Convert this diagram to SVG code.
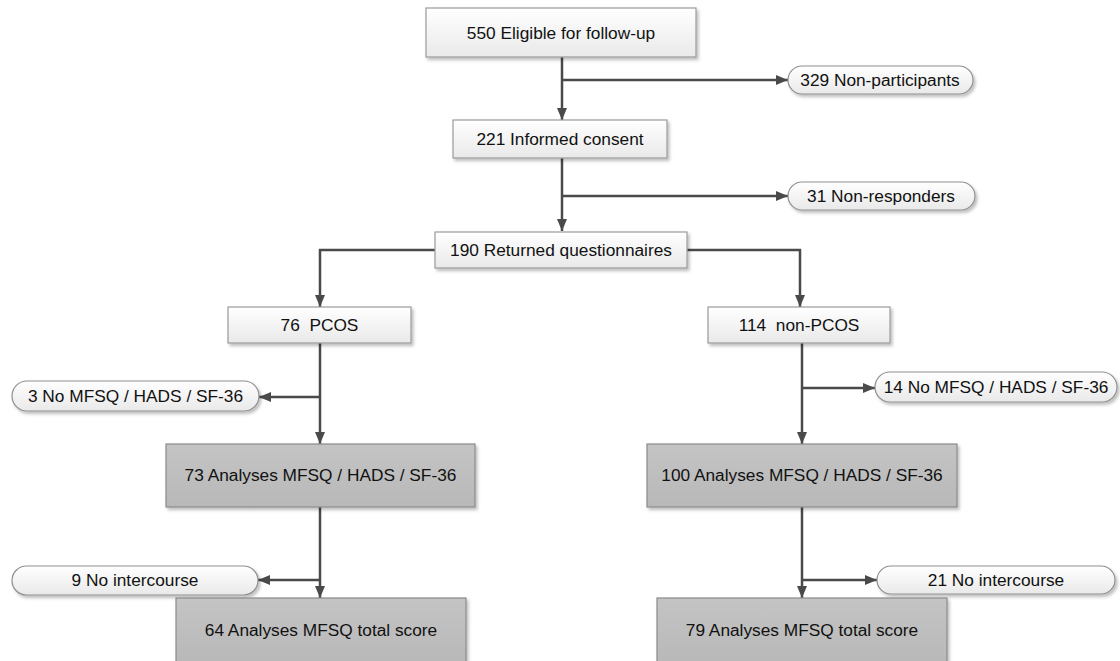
<svg xmlns="http://www.w3.org/2000/svg" width="1120" height="661" viewBox="0 0 1120 661">
<style>
.t{font-family:"Liberation Sans",Arial,sans-serif;font-size:17.3px;fill:#111111;text-anchor:middle;dominant-baseline:central}
.lb{fill:url(#gl);stroke:#9a9a9a;stroke-width:1.2}
.db{fill:url(#gd);stroke:#8a8a8a;stroke-width:1.2}
.pl{fill:url(#gl);stroke:#8f8f8f;stroke-width:1.2}
.c{fill:none;stroke:#4a4a4a;stroke-width:2.5}
</style>
<defs>
<linearGradient id="gl" x1="0" y1="0" x2="0" y2="1"><stop offset="0" stop-color="#ffffff"/><stop offset="1" stop-color="#e9e9e9"/></linearGradient>
<linearGradient id="gd" x1="0" y1="0" x2="0" y2="1"><stop offset="0" stop-color="#c4c4c4"/><stop offset="1" stop-color="#b8b8b8"/></linearGradient>
<filter id="sh" x="-10%" y="-20%" width="130%" height="160%"><feDropShadow dx="2" dy="2.5" stdDeviation="1.5" flood-color="#000" flood-opacity="0.25"/></filter>
<marker id="ar" viewBox="0 0 12 10" refX="12" refY="5" markerWidth="12" markerHeight="10" markerUnits="userSpaceOnUse" orient="auto"><path d="M0,0L12,5L0,10z" fill="#4a4a4a"/></marker>
</defs>
<g id="connectors">
<path class="c" d="M562,57V120" marker-end="url(#ar)"/>
<path class="c" d="M562,80H788" marker-end="url(#ar)"/>
<path class="c" d="M562,158V231" marker-end="url(#ar)"/>
<path class="c" d="M562,196H788" marker-end="url(#ar)"/>
<path class="c" d="M435,250H320V307" marker-end="url(#ar)"/>
<path class="c" d="M687,250H800V307" marker-end="url(#ar)"/>
<path class="c" d="M320,343V444" marker-end="url(#ar)"/>
<path class="c" d="M320,397H259" marker-end="url(#ar)"/>
<path class="c" d="M320,507V598" marker-end="url(#ar)"/>
<path class="c" d="M320,580H258" marker-end="url(#ar)"/>
<path class="c" d="M802,343V444" marker-end="url(#ar)"/>
<path class="c" d="M802,388H875" marker-end="url(#ar)"/>
<path class="c" d="M802,507V598" marker-end="url(#ar)"/>
<path class="c" d="M802,580H877" marker-end="url(#ar)"/>
</g>
<g id="n550"><rect class="lb" filter="url(#sh)" x="426" y="8" width="270" height="49"/><text class="t" x="561" y="32.5">550 Eligible for follow-up</text></g>
<g id="n329"><rect class="pl" filter="url(#sh)" x="788" y="66" width="185" height="28" rx="14"/><text class="t" x="880" y="80">329 Non-participants</text></g>
<g id="n221"><rect class="lb" filter="url(#sh)" x="453" y="120" width="214" height="38"/><text class="t" x="560" y="139">221 Informed consent</text></g>
<g id="n31"><rect class="pl" filter="url(#sh)" x="788" y="182" width="187" height="28" rx="14"/><text class="t" x="881" y="196">31 Non-responders</text></g>
<g id="n190"><rect class="lb" filter="url(#sh)" x="435" y="232" width="252" height="36"/><text class="t" x="561" y="250">190 Returned questionnaires</text></g>
<g id="npcos"><rect class="lb" filter="url(#sh)" x="228" y="307" width="183" height="36"/><text class="t" x="319.5" y="325" xml:space="preserve">76  PCOS</text></g>
<g id="nnonpcos"><rect class="lb" filter="url(#sh)" x="708" y="307" width="182" height="36"/><text class="t" x="799" y="325" xml:space="preserve">114  non-PCOS</text></g>
<g id="n3"><rect class="pl" filter="url(#sh)" x="12" y="381" width="247" height="30" rx="15"/><text class="t" x="135.5" y="396">3 No MFSQ / HADS / SF-36</text></g>
<g id="n14"><rect class="pl" filter="url(#sh)" x="875" y="372" width="242" height="30" rx="15"/><text class="t" x="996" y="387">14 No MFSQ / HADS / SF-36</text></g>
<g id="n73"><rect class="db" filter="url(#sh)" x="166" y="444" width="309" height="63"/><text class="t" x="320.5" y="475">73 Analyses MFSQ / HADS / SF-36</text></g>
<g id="n100"><rect class="db" filter="url(#sh)" x="647" y="444" width="310" height="63"/><text class="t" x="802" y="475">100 Analyses MFSQ / HADS / SF-36</text></g>
<g id="n9"><rect class="pl" filter="url(#sh)" x="12" y="566" width="246" height="29" rx="14.5"/><text class="t" x="135" y="580">9 No intercourse</text></g>
<g id="n21"><rect class="pl" filter="url(#sh)" x="877" y="566" width="238" height="28" rx="14"/><text class="t" x="996" y="580">21 No intercourse</text></g>
<g id="n64"><rect class="db" filter="url(#sh)" x="176" y="598" width="290" height="66"/><text class="t" x="321" y="630">64 Analyses MFSQ total score</text></g>
<g id="n79"><rect class="db" filter="url(#sh)" x="657" y="598" width="290" height="66"/><text class="t" x="802" y="630">79 Analyses MFSQ total score</text></g>
</svg>
